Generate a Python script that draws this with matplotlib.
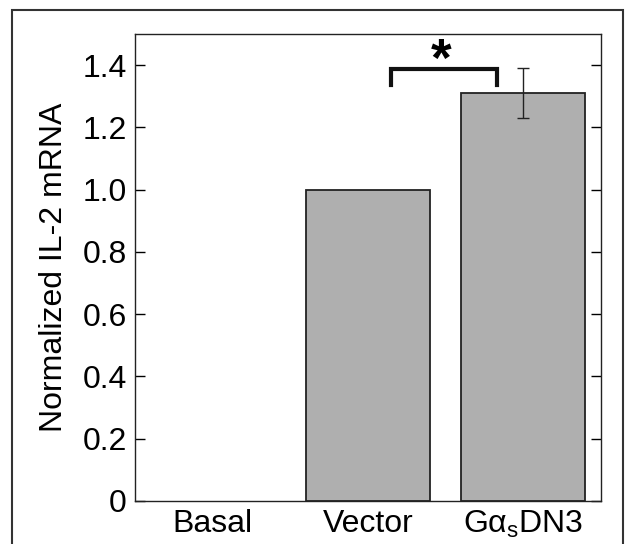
import matplotlib
matplotlib.use('Agg')
import matplotlib.pyplot as plt
from matplotlib.patches import Rectangle
import numpy as np

plt.rcParams['font.family'] = ['Liberation Sans', 'DejaVu Sans']
plt.rcParams['mathtext.fontset'] = 'custom'
plt.rcParams['mathtext.rm'] = 'Liberation Sans'

# Data
categories = ['Basal', 'Vector', r'G$\mathregular{\alpha_s}$DN3']
values = [0.0, 1.0, 1.31]
errors = [0.0, 0.0, 0.08]
yticks = [0, 0.2, 0.4, 0.6, 0.8, 1.0, 1.2, 1.4]
ytick_labels = ['0', '0.2', '0.4', '0.6', '0.8', '1.0', '1.2', '1.4']

fig = plt.figure(figsize=(6.37, 5.44), dpi=100)
ax = fig.add_axes([135/637, 1 - 501/544, (601 - 135)/637, (501 - 34)/544])

x = np.arange(len(categories))
# bars with zero height are not drawn (no edge line on the axis)
edge_w = [1.3 if v > 0 else 0 for v in values]
ax.bar(x, values, width=0.8, color='#afafaf', edgecolor='#222222', linewidth=edge_w)
ax.errorbar(x[2], values[2], yerr=errors[2], fmt='none', ecolor='#222222',
            elinewidth=1.0, capsize=4, capthick=1.0)

# significance bracket
ax.plot([1.145, 1.145, 1.833, 1.833], [1.336, 1.387, 1.387, 1.336],
        color='#111111', linewidth=3, solid_joinstyle='miter')
ax.text(1.47, 1.41, '*', ha='center', va='center', fontsize=38, fontweight='bold')

ax.set_xlim(-0.5, 2.5)
ax.set_ylim(0, 1.5)
ax.set_xticks(x)
ax.set_xticklabels(categories, fontsize=23)
ax.set_yticks(yticks)
ax.set_yticklabels(ytick_labels, fontsize=23)
ax.tick_params(axis='x', length=0, pad=6)
ax.tick_params(axis='y', direction='in', length=7, width=1, right=True, pad=6)
ax.set_ylabel('Normalized IL-2 mRNA', fontsize=23)
ax.yaxis.set_label_coords(-0.142, 0.5)
for s in ax.spines.values():
    s.set_linewidth(1.0)
    s.set_color('#222222')

# outer frame
fig.patches.append(Rectangle((12/637, -0.05), (623 - 12)/637, 1.05 - 10/544,
                             transform=fig.transFigure, fill=False,
                             edgecolor='#333333', linewidth=1.5))

fig.savefig('out.png', dpi=100)
